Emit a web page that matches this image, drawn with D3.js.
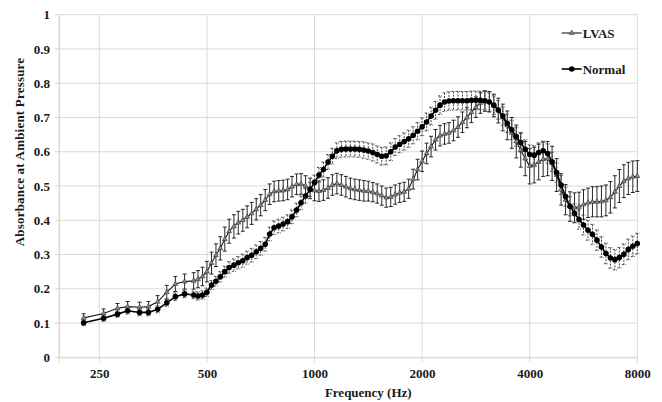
<!DOCTYPE html>
<html>
<head>
<meta charset="utf-8">
<script src="https://cdn.jsdelivr.net/npm/d3@7"></script>
<style>
  body { margin: 0; background: #fff; }
  svg text { font-family: "Liberation Serif", "DejaVu Serif", "Times New Roman", Times, serif !important; font-weight: bold; fill: #1a1a1a; }
</style>
</head>
<body>
<div id="chart"></div>
<script>
let width = 662;
let height = 402;
let margins = { top: 14.7, right: 24.7, bottom: 44.7, left: 59 };
let serif = '"Liberation Serif", "DejaVu Serif", serif';

// frequency points (Hz)
let freqs = [226, 257, 281, 300, 324, 343, 364, 386, 408, 433, 459, 472, 486,
  500, 515, 530, 545, 561, 577, 595, 612, 630, 648, 667, 687, 707, 728, 749, 771, 794, 817, 841, 865, 891, 917, 944, 972,
  1000, 1029, 1059, 1091, 1122, 1155, 1189, 1224, 1260, 1297, 1335, 1374, 1414, 1456, 1498, 1542, 1587, 1634, 1682, 1731, 1782, 1834, 1888, 1943,
  2000, 2059, 2119, 2181, 2245, 2311, 2378, 2448, 2520, 2594, 2670, 2748, 2828, 2911, 2997, 3084, 3175, 3268, 3364, 3462, 3564, 3668, 3776, 3886,
  4000, 4117, 4238, 4362, 4490, 4621, 4757, 4896, 5040, 5187, 5339, 5496, 5657, 5823, 5993, 6169, 6350, 6536, 6727, 6924, 7127, 7336, 7551, 7772, 8000];

let lvas = [0.115, 0.128, 0.143, 0.148, 0.146, 0.148, 0.162, 0.19, 0.214, 0.221, 0.223, 0.228, 0.236,
  0.25, 0.275, 0.298, 0.318, 0.345, 0.368, 0.382, 0.393, 0.40, 0.41,
  0.42, 0.432, 0.444, 0.459, 0.476, 0.484, 0.486, 0.487, 0.49, 0.498,
  0.505, 0.506, 0.50, 0.493, 0.487, 0.485, 0.488, 0.494, 0.503, 0.507,
  0.503, 0.498, 0.493, 0.49, 0.488, 0.486, 0.485, 0.482, 0.478, 0.472,
  0.466, 0.468, 0.475, 0.48, 0.483, 0.492, 0.52, 0.548, 0.572, 0.595,
  0.615, 0.635, 0.647, 0.652, 0.655, 0.662, 0.672, 0.686, 0.70, 0.715,
  0.73, 0.742, 0.748, 0.746, 0.735, 0.72, 0.70, 0.677, 0.655, 0.63,
  0.605, 0.58, 0.558, 0.561, 0.57, 0.578, 0.58, 0.566, 0.532, 0.49,
  0.46, 0.44, 0.437, 0.439, 0.446, 0.451, 0.454, 0.454, 0.455, 0.458,
  0.467, 0.483, 0.50, 0.514, 0.522, 0.527, 0.529];

let lvasErr = [0.012, 0.013, 0.014, 0.015, 0.015, 0.015, 0.018, 0.02, 0.022, 0.022, 0.024, 0.025, 0.027,
  0.03, 0.032, 0.033, 0.034, 0.035, 0.035, 0.034, 0.033, 0.032, 0.032,
  0.032, 0.031, 0.031, 0.031, 0.03, 0.03, 0.03, 0.03, 0.03, 0.03,
  0.03, 0.03, 0.03, 0.03, 0.03, 0.03, 0.03, 0.03, 0.03, 0.03,
  0.03, 0.03, 0.03, 0.03, 0.03, 0.03, 0.029, 0.028, 0.028, 0.028,
  0.028, 0.028, 0.028, 0.028, 0.028, 0.028, 0.029, 0.03, 0.03, 0.03,
  0.03, 0.03, 0.03, 0.03, 0.03, 0.03, 0.03, 0.03, 0.03, 0.03,
  0.03, 0.03, 0.03, 0.03, 0.033, 0.036, 0.039, 0.042, 0.045, 0.048,
  0.05, 0.05, 0.052, 0.052, 0.052, 0.05, 0.05, 0.05, 0.048, 0.046,
  0.044, 0.043, 0.043, 0.043, 0.043, 0.043, 0.044, 0.044, 0.045, 0.045,
  0.046, 0.047, 0.048, 0.048, 0.047, 0.046, 0.045];

let normal = [0.101, 0.114, 0.126, 0.136, 0.131, 0.131, 0.14, 0.159, 0.177, 0.185, 0.182, 0.179, 0.182,
  0.19, 0.211, 0.222, 0.235, 0.25, 0.262, 0.269, 0.276, 0.282, 0.291,
  0.298, 0.308, 0.318, 0.33, 0.36, 0.378, 0.383, 0.389, 0.396, 0.41,
  0.43, 0.451, 0.471, 0.49, 0.51, 0.532, 0.548, 0.57, 0.587, 0.603,
  0.607, 0.608, 0.608, 0.608, 0.607, 0.605, 0.602, 0.598, 0.592, 0.587,
  0.588, 0.6, 0.614, 0.622, 0.63, 0.638, 0.648, 0.66, 0.673, 0.687,
  0.704, 0.721, 0.736, 0.745, 0.748, 0.749, 0.749, 0.749, 0.749, 0.75,
  0.75, 0.75, 0.749, 0.745, 0.736, 0.722, 0.704, 0.683, 0.664, 0.644,
  0.627, 0.607, 0.592, 0.59, 0.598, 0.603, 0.595, 0.571, 0.539, 0.503,
  0.469, 0.441, 0.42, 0.402, 0.386, 0.371, 0.359, 0.342, 0.322, 0.303,
  0.29, 0.285, 0.291, 0.301, 0.315, 0.324, 0.332];

let normalErr = [0.008, 0.009, 0.009, 0.01, 0.01, 0.01, 0.01, 0.01, 0.011, 0.011, 0.011, 0.012, 0.012,
  0.012, 0.013, 0.014, 0.015, 0.016, 0.017, 0.018, 0.018, 0.019, 0.019,
  0.02, 0.02, 0.02, 0.02, 0.02, 0.02, 0.02, 0.02, 0.02, 0.02,
  0.02, 0.02, 0.021, 0.021, 0.022, 0.022, 0.022, 0.022, 0.023, 0.023,
  0.023, 0.023, 0.023, 0.023, 0.023, 0.024, 0.024, 0.025, 0.025, 0.026,
  0.026, 0.026, 0.025, 0.025, 0.025, 0.025, 0.025, 0.025, 0.026, 0.026,
  0.026, 0.026, 0.027, 0.027, 0.027, 0.027, 0.027, 0.027, 0.027, 0.027,
  0.027, 0.027, 0.027, 0.027, 0.027, 0.027, 0.027, 0.027, 0.028, 0.028,
  0.028, 0.028, 0.028, 0.028, 0.028, 0.028, 0.028, 0.028, 0.028, 0.028,
  0.028, 0.028, 0.028, 0.028, 0.029, 0.029, 0.029, 0.03, 0.03, 0.03,
  0.03, 0.03, 0.03, 0.03, 0.03, 0.03, 0.03];

let xTicks = [250, 500, 1000, 2000, 4000, 8000];
let yTicks = [0, 0.1, 0.2, 0.3, 0.4, 0.5, 0.6, 0.7, 0.8, 0.9, 1];

let w = width - margins.left - margins.right;
let h = height - margins.top - margins.bottom;

let svg = d3.select("#chart")
    .append('svg')
    .attr('width', width)
    .attr('height', height)
    .attr('font-family', serif)
    .append('g')
    .attr('transform', 'translate(' + margins.left + ',' + margins.top + ')');

let x = d3.scaleLog().base(2)
    .domain([192.8, 8000])
    .range([0, w]);
let y = d3.scaleLinear()
    .domain([0, 1])
    .range([h, 0]);

// gridlines
svg.append('g')
    .selectAll('line')
    .data(yTicks)
    .enter()
    .append('line')
    .attr('x1', -4).attr('x2', w)
    .attr('y1', d => y(d)).attr('y2', d => y(d))
    .style('stroke', '#d9d9d9');
svg.append('g')
    .selectAll('line')
    .data([192.8].concat(xTicks))
    .enter()
    .append('line')
    .attr('x1', d => x(d)).attr('x2', d => x(d))
    .attr('y1', 0).attr('y2', h + 5)
    .style('stroke', '#d9d9d9');

// x axis
let xAxis = svg.append('g')
    .attr('class', 'xaxis axis')
    .attr('transform', 'translate(0,' + h + ')')
    .call(d3.axisBottom(x).tickValues(xTicks).tickFormat(d3.format('d')).tickSize(0).tickPadding(11));
xAxis.attr('font-family', serif);
xAxis.select('.domain').style('stroke', '#d9d9d9');
xAxis.selectAll('text').style('font-size', '13px').style('font-family', serif);

// y axis
let yAxis = svg.append('g')
    .attr('class', 'yaxis axis')
    .call(d3.axisLeft(y).tickValues(yTicks).tickFormat(d => d === 0 || d === 1 ? d : d.toFixed(1)).tickSize(0).tickPadding(9));
yAxis.attr('font-family', serif);
yAxis.select('.domain').style('stroke', '#d9d9d9');
yAxis.selectAll('text').style('font-size', '13px').style('font-family', serif);

svg.append('text')
    .attr('x', x(1414))
    .attr('y', h + 40)
    .attr('text-anchor', 'middle')
    .style('font-size', '13px')
    .style('font-family', serif)
    .text('Frequency (Hz)');

svg.append('text')
    .attr('transform', 'translate(' + (19 - margins.left) + ',' + (152 - margins.top) + ') rotate(-90)')
    .attr('text-anchor', 'middle')
    .attr('dy', '0.35em')
    .style('font-size', '13px')
    .style('letter-spacing', '0.2px')
    .style('font-family', serif)
    .text('Absorbance at Ambient Pressure');

let series = [
    { name: 'LVAS', values: lvas, err: lvasErr, color: '#111', dash: null },
    { name: 'Normal', values: normal, err: normalErr, color: '#333', dash: '2,1.2' }
];

let chart = svg.append('g').attr('class', 'series');

// error bars
series.forEach(function (s) {
    let pts = freqs.map((f, i) => ({ f: f, v: s.values[i], e: s.err[i] }));
    chart.append('g')
        .selectAll('path')
        .data(pts)
        .enter()
        .append('path')
        .attr('d', d => {
            let cx = x(d.f), t = y(d.v + d.e), b = y(d.v - d.e);
            return 'M' + (cx - 2) + ',' + t + 'H' + (cx + 2) + 'M' + cx + ',' + t + 'V' + b + 'M' + (cx - 2) + ',' + b + 'H' + (cx + 2);
        })
        .style('fill', 'none')
        .style('stroke', s.color)
        .style('stroke-width', 0.9)
        .style('stroke-dasharray', s.dash);
});

let line = d3.line()
    .x(d => x(d.f))
    .y(d => y(d.v));

let lvasPts = freqs.map((f, i) => ({ f: f, v: lvas[i] }));
let normalPts = freqs.map((f, i) => ({ f: f, v: normal[i] }));

chart.append('path')
    .datum(lvasPts)
    .attr('d', line)
    .style('fill', 'none')
    .style('stroke', '#1a1a1a')
    .style('stroke-width', 1.1);
chart.selectAll('path.tri')
    .data(lvasPts)
    .enter()
    .append('path')
    .attr('class', 'tri')
    .attr('transform', d => 'translate(' + x(d.f) + ',' + y(d.v) + ')')
    .attr('d', d3.symbol(d3.symbolTriangle).size(11))
    .style('fill', '#888')
    .style('stroke', '#222')
    .style('stroke-width', 0.5);

chart.append('path')
    .datum(normalPts)
    .attr('d', line)
    .style('fill', 'none')
    .style('stroke', '#000')
    .style('stroke-width', 1.6);
chart.selectAll('circle.dot')
    .data(normalPts)
    .enter()
    .append('circle')
    .attr('class', 'dot')
    .attr('cx', d => x(d.f))
    .attr('cy', d => y(d.v))
    .attr('r', 2.8)
    .style('fill', '#000');

// legend
let legend = svg.append('g')
    .attr('transform', 'translate(' + (561.7 - margins.left) + ',' + (33 - margins.top) + ')');
legend.append('line')
    .attr('x1', 0).attr('x2', 20).attr('y1', 0).attr('y2', 0)
    .style('stroke', '#1a1a1a').style('stroke-width', 1.1);
legend.append('path')
    .attr('transform', 'translate(10,0)')
    .attr('d', d3.symbol(d3.symbolTriangle).size(11))
    .style('fill', '#888').style('stroke', '#222').style('stroke-width', 0.5);
legend.append('text')
    .attr('x', 21).attr('y', 0).attr('dy', '0.35em')
    .style('font-size', '13px')
    .style('font-family', serif)
    .text('LVAS');
legend.append('line')
    .attr('x1', 0).attr('x2', 20).attr('y1', 36).attr('y2', 36)
    .style('stroke', '#000').style('stroke-width', 1.6);
legend.append('circle')
    .attr('cx', 10).attr('cy', 36).attr('r', 2.8)
    .style('fill', '#000');
legend.append('text')
    .attr('x', 21).attr('y', 36).attr('dy', '0.35em')
    .style('font-size', '13px')
    .style('font-family', serif)
    .text('Normal');
</script>
</body>
</html>
